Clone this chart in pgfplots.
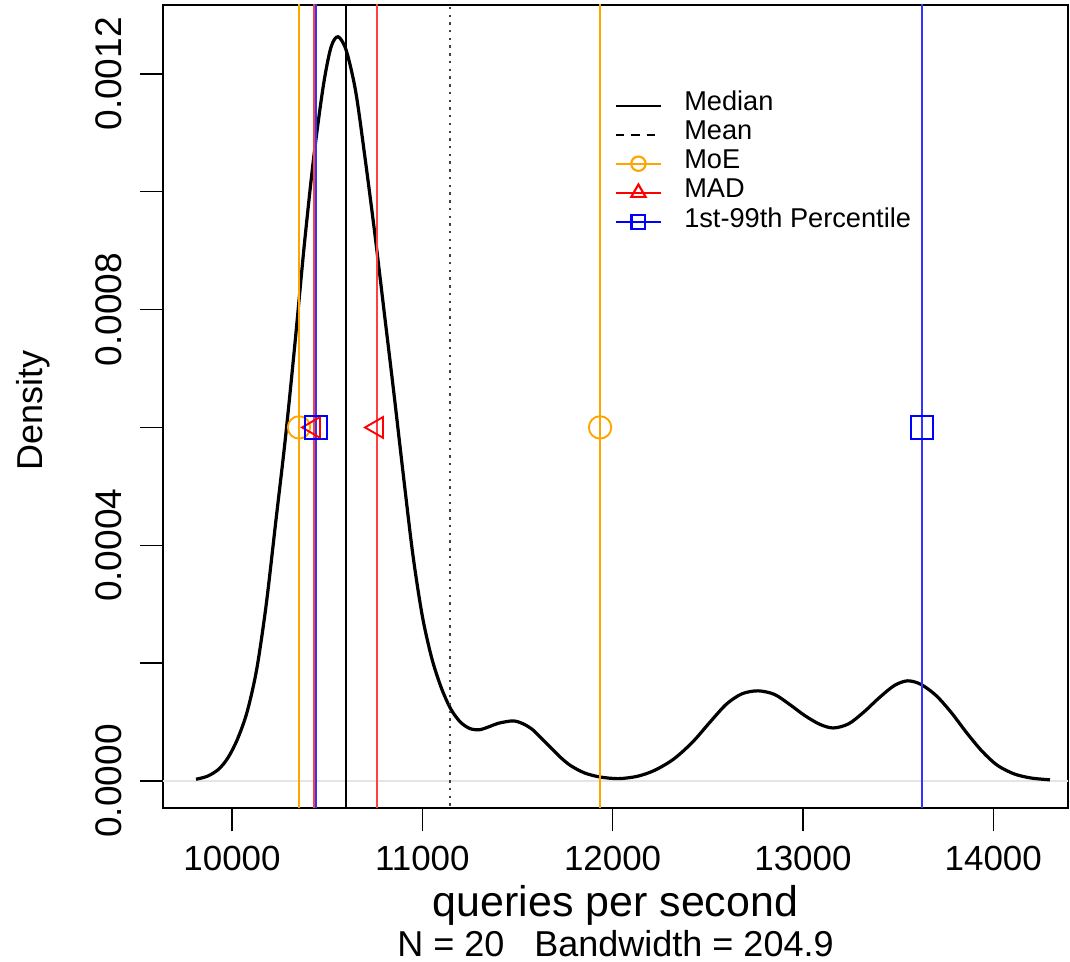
\documentclass[border=0pt]{standalone}
\usepackage{fontspec}
\setmainfont{Liberation Sans}
\usepackage{pgfplots}
\usepackage{pgfplotstable}
\pgfplotsset{compat=1.18}
\definecolor{rorange}{RGB}{255,165,0}
\definecolor{rred}{RGB}{255,0,0}
\definecolor{rblue}{RGB}{0,0,255}

% kernel density of queries per second
\pgfplotstableread{
x      y
9811   0.000003
9870   0.000008
9930   0.000020
9980   0.000040
10030  0.000072
10080  0.000118
10130  0.000190
10180  0.000300
10230  0.000440
10280  0.000580
10330  0.000740
10380  0.000910
10430  0.001060
10480  0.001180
10520  0.001245
10557  0.001263
10600  0.001240
10650  0.001170
10700  0.001055
10750  0.000930
10800  0.000795
10850  0.000660
10900  0.000520
10950  0.000385
11000  0.000280
11050  0.000208
11100  0.000158
11150  0.000122
11200  0.000100
11250  0.000089
11300  0.000087
11350  0.000092
11400  0.000098
11477  0.000102
11530  0.000097
11580  0.000087
11630  0.000071
11680  0.000055
11730  0.000039
11780  0.000026
11850  0.000014
11930  0.000007
12030  0.000004
12130  0.000008
12220  0.000018
12320  0.000037
12420  0.000066
12520  0.000103
12600  0.000131
12680  0.000148
12764  0.000153
12850  0.000147
12930  0.000130
13010  0.000111
13090  0.000096
13160  0.000090
13240  0.000097
13320  0.000117
13400  0.000141
13480  0.000162
13550  0.000170
13620  0.000164
13700  0.000145
13780  0.000116
13860  0.000082
13940  0.000051
14020  0.000027
14110  0.000012
14200  0.000005
14298  0.000002
}\densitytable

\begin{document}
\begin{tikzpicture}
\path[use as bounding box] (-61.125pt,-57.75pt) rectangle (340.125pt,303pt);
\begin{axis}[
  at={(0pt,0pt)}, anchor=south west,
  scale only axis, width=339.375pt, height=301.125pt,
  xmin=9637.4, xmax=14393, ymin=-0.0000458, ymax=0.0013169,
  axis line style={line width=0.5pt},
  tick align=outside, major tick length=8.8pt, minor tick length=8.8pt,
  xtick pos=left, ytick pos=left,
  xtick={10000,11000,12000,13000,14000},
  xticklabels={10000,11000,12000,13000,14000},
  ytick={0,0.0004,0.0008,0.0012},
  yticklabels={0.0000,0.0004,0.0008,0.0012},
  minor ytick={0.0002,0.0006,0.0010},
  scaled y ticks=false, scaled x ticks=false,
  tick style={black, line width=0.5pt},
  /pgf/number format/assume math mode=true,
  xticklabel style={anchor=north, inner sep=0pt, font=\fontsize{13.1}{15}\selectfont},
  xticklabel shift=5.3pt,
  yticklabel style={rotate=90, anchor=south, inner sep=0pt, font=\fontsize{13.9}{16}\selectfont},
  yticklabel shift=6.6pt,
  xlabel={queries per second},
  xlabel style={at={(axis description cs:0.5,-0.1208)}, anchor=center, font=\fontsize{16.1}{19}\selectfont},
  ylabel={Density},
  ylabel style={at={(axis description cs:-0.1436,0.4956)}, anchor=center, font=\fontsize{13.5}{16}\selectfont},
  legend style={draw=none, fill=none, at={(axis description cs:0.4984,0.8935)}, anchor=north west,
    inner sep=0pt, row sep=0pt, font=\fontsize{10.2}{12}\selectfont,
    nodes={inner sep=0pt, text height=7.4pt, text depth=3.5pt},
    /tikz/every odd column/.append style={column sep=8.25pt}},
  legend cell align=left,
]
\addlegendimage{black, line width=0.8pt}
\addlegendentry{Median}
\addlegendimage{black, line width=0.8pt, dash pattern=on 3.2pt off 2.6pt}
\addlegendentry{Mean}
\addlegendimage{rorange, line width=0.8pt, mark=o, mark size=2.7pt}
\addlegendentry{MoE}
\addlegendimage{rred, line width=0.8pt, mark=triangle, mark size=3.1pt}
\addlegendentry{MAD}
\addlegendimage{rblue, line width=0.8pt, mark=square, mark size=2.6pt}
\addlegendentry{1st-99th Percentile}

% zero line
\addplot[gray!20, line width=0.4pt, forget plot] coordinates {(9000,0) (15000,0)};
% density curve
\addplot[black, line width=1.2pt, smooth, forget plot] table {\densitytable};

% summary lines
\addplot[black, line width=0.6pt, forget plot] coordinates {(10599,-0.001) (10599,0.002)};
\addplot[gray!50!black, line width=0.6pt, dash pattern=on 0.9pt off 2pt, forget plot] coordinates {(11146,-0.001) (11146,0.002)};
\addplot[rorange, line width=0.6pt, forget plot] coordinates {(10352,-0.001) (10352,0.002)};
\addplot[rorange, line width=0.6pt, forget plot] coordinates {(11934,-0.001) (11934,0.002)};
\addplot[rred!75, line width=0.6pt, forget plot] coordinates {(10431,-0.001) (10431,0.002)};
\addplot[rred!75, line width=0.6pt, forget plot] coordinates {(10762,-0.001) (10762,0.002)};
\addplot[rblue!80, line width=0.6pt, forget plot] coordinates {(10441,-0.001) (10441,0.002)};
\addplot[rblue!80, line width=0.6pt, forget plot] coordinates {(13626,-0.001) (13626,0.002)};

% interval markers
\addplot[only marks, rorange, mark=o, mark size=4.2pt, mark options={line width=0.7pt}, forget plot]
  coordinates {(10352,0.0006) (11934,0.0006)};
\addplot[only marks, rred, mark=triangle, mark size=4.5pt, mark options={rotate=90, line width=0.7pt}, forget plot]
  coordinates {(10431,0.0006) (10762,0.0006)};
\addplot[only marks, rblue, mark=square, mark size=4.2pt, mark options={line width=0.7pt}, forget plot]
  coordinates {(10441,0.0006) (13626,0.0006)};
\end{axis}
\node[font=\fontsize{13.5}{16}\selectfont, inner sep=0pt] at (169.69pt,-50.9pt) {N = 20\ \ \ Bandwidth = 204.9};
\end{tikzpicture}
\end{document}
